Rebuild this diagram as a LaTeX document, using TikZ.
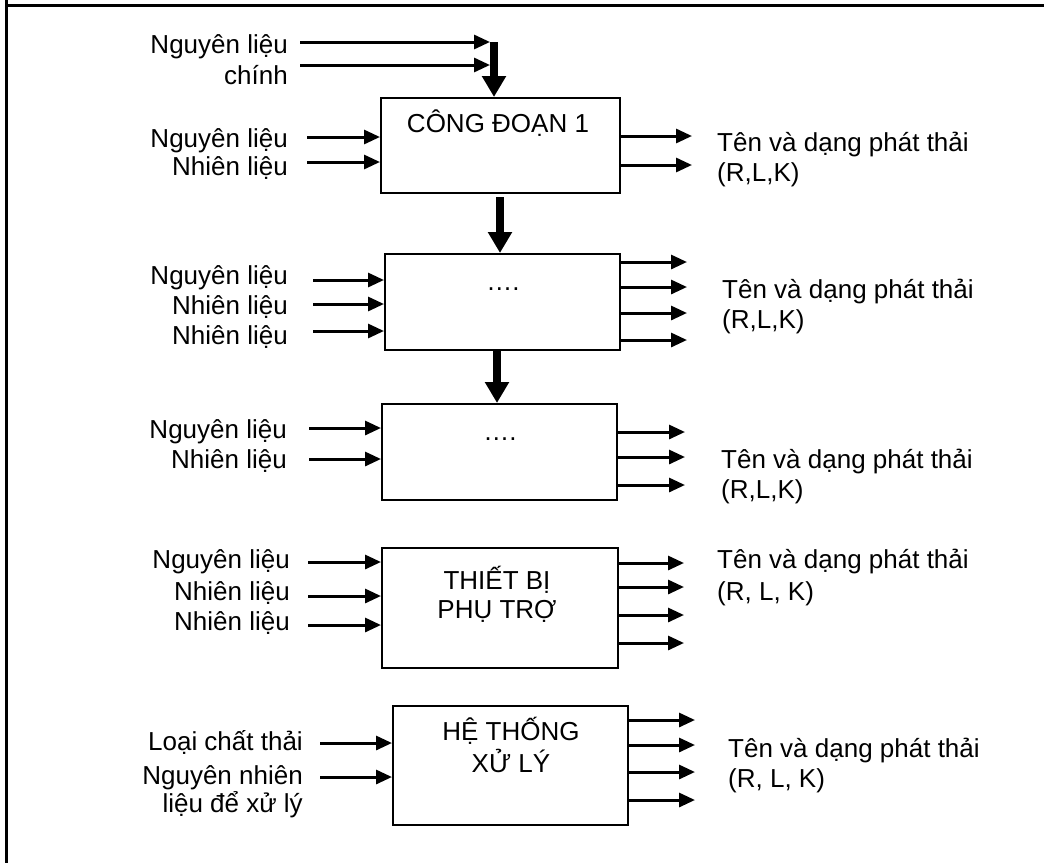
\documentclass[tikz,border=0pt]{standalone}
\usepackage{fontspec}
\setmainfont{Liberation Sans}
\usetikzlibrary{arrows.meta,positioning}
\tikzset{
  arr/.style={-{Triangle[length=16pt,width=14pt]},line width=3pt},
  fat/.style={-{Triangle[length=21pt,width=23pt]},line width=8pt},
  box/.style={draw,line width=2.3pt,inner sep=0pt,anchor=north west},
  lab/.style={font=\fontsize{26}{30}\selectfont,inner sep=0pt},
  inl/.style={lab,anchor=base east},
  outl/.style={lab,anchor=base west},
  ttl/.style={lab,anchor=base},
}
\begin{document}
\begin{tikzpicture}[x=1pt,y=-1pt]
\useasboundingbox (0,0) rectangle (1044,863);
% khung
\draw[line width=3pt] (6,0) -- (6,863);
\draw[line width=3pt] (6,5) -- (1044,5);

% cac khoi
\node[box,minimum width=239pt,minimum height=95pt] (b1) at (380,97) {};
\node[box,minimum width=235pt,minimum height=96pt] (b2) at (384,253) {};
\node[box,minimum width=235pt,minimum height=96pt] (b3) at (381,403) {};
\node[box,minimum width=236pt,minimum height=120pt] (b4) at (381,547) {};
\node[box,minimum width=235pt,minimum height=119pt] (b5) at (392,705) {};
\node[ttl] (t1) at (498,132) {CÔNG ĐOẠN 1};
\node[ttl] (t2) at (503,290) {….};
\node[ttl] (t3) at (500,440) {….};
\node[ttl] (t4a) at (497,589) {THIẾT BỊ};
\node[ttl] (t4b) at (497,618) {PHỤ TRỢ};
\node[ttl] (t5a) at (511,740) {HỆ THỐNG};
\node[ttl] (t5b) at (511,772) {XỬ LÝ};

% nguyen lieu chinh
\node[inl] (m0a) at (288,53) {Nguyên liệu};
\node[inl] (m0b) at (288,84) {chính};
\coordinate (c0) at (494,42);
\coordinate (s0a) at (300,42);
\coordinate (s0b) at (300,65);
\draw[arr] (s0a) -- ([xshift=-4pt]c0);
\draw[arr] (s0b) -- ([xshift=-4pt]c0 |- s0b);
\draw[fat] (c0) -- (c0 |- b1.north);
\coordinate (c1) at (500,197);
\draw[fat] (c1) -- (c1 |- b2.north);
\coordinate (c2) at (497,349);
\draw[fat] (c2) -- (c2 |- b3.north);

% dau vao
\node[inl] (m1a) at (288,147) {Nguyên liệu};
\node[inl] (m1b) at (288,175) {Nhiên liệu};
\coordinate (s1a) at (307,137); \coordinate (s1b) at (307,162);
\draw[arr] (s1a) -- (s1a -| b1.west);
\draw[arr] (s1b) -- (s1b -| b1.west);

\node[inl] (m2a) at (288,284) {Nguyên liệu};
\node[inl] (m2b) at (288,314) {Nhiên liệu};
\node[inl] (m2c) at (288,344) {Nhiên liệu};
\foreach \y [count=\i] in {280,304,331}{
  \coordinate (s2\i) at (313,\y);
  \draw[arr] (s2\i) -- (s2\i -| b2.west);
}

\node[inl] (m3a) at (287,438) {Nguyên liệu};
\node[inl] (m3b) at (287,468) {Nhiên liệu};
\foreach \y [count=\i] in {428,459}{
  \coordinate (s3\i) at (309,\y);
  \draw[arr] (s3\i) -- (s3\i -| b3.west);
}

\node[inl] (m4a) at (290,568) {Nguyên liệu};
\node[inl] (m4b) at (290,600) {Nhiên liệu};
\node[inl] (m4c) at (290,630) {Nhiên liệu};
\foreach \y [count=\i] in {562,596,625}{
  \coordinate (s4\i) at (308,\y);
  \draw[arr] (s4\i) -- (s4\i -| b4.west);
}

\node[inl] (m5a) at (303,750) {Loại chất thải};
\node[inl] (m5b) at (303,784) {Nguyên nhiên};
\node[inl] (m5c) at (303,812) {liệu để xử lý};
\foreach \y [count=\i] in {743,777}{
  \coordinate (s5\i) at (320,\y);
  \draw[arr] (s5\i) -- (s5\i -| b5.west);
}

% dau ra
\foreach \y [count=\i] in {136,165}{
  \coordinate (o1\i) at (692,\y);
  \draw[arr] (b1.east |- o1\i) -- (o1\i);
}
\node[outl] (e1a) at (717,151) {Tên và dạng phát thải};
\node[outl] (e1b) at (717,181) {(R,L,K)};

\foreach \y [count=\i] in {262,287,313,340}{
  \coordinate (o2\i) at (687,\y);
  \draw[arr] (b2.east |- o2\i) -- (o2\i);
}
\node[outl] (e2a) at (722,298) {Tên và dạng phát thải};
\node[outl] (e2b) at (722,328) {(R,L,K)};

\foreach \y [count=\i] in {432,457,485}{
  \coordinate (o3\i) at (685,\y);
  \draw[arr] (b3.east |- o3\i) -- (o3\i);
}
\node[outl] (e3a) at (721,468) {Tên và dạng phát thải};
\node[outl] (e3b) at (721,498) {(R,L,K)};

\foreach \y [count=\i] in {563,587,615,643}{
  \coordinate (o4\i) at (684,\y);
  \draw[arr] (b4.east |- o4\i) -- (o4\i);
}
\node[outl] (e4a) at (717,568) {Tên và dạng phát thải};
\node[outl] (e4b) at (717,600) {(R, L, K)};

\foreach \y [count=\i] in {720,745,772,800}{
  \coordinate (o5\i) at (695,\y);
  \draw[arr] (b5.east |- o5\i) -- (o5\i);
}
\node[outl] (e5a) at (728,757) {Tên và dạng phát thải};
\node[outl] (e5b) at (728,787) {(R, L, K)};
\end{tikzpicture}
\end{document}
